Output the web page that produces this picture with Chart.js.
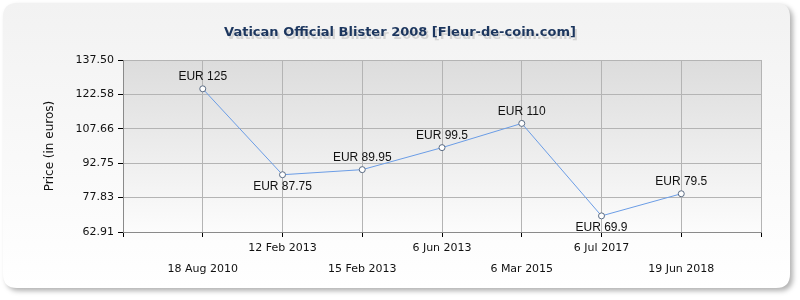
<!DOCTYPE html>
<html>
<head>
<meta charset="utf-8">
<script src="https://cdn.jsdelivr.net/npm/chart.js@4.4.0/dist/chart.umd.min.js"></script>
<style>
  html, body { margin: 0; padding: 0; background: #fff; }
  #wrap { width: 800px; height: 300px; }
</style>
</head>
<body>
<div id="wrap"><canvas id="priceChart" width="800" height="300"></canvas></div>
<script>
// données
const dateLabels = ["18 Aug 2010", "12 Feb 2013", "15 Feb 2013", "6 Jun 2013", "6 Mar 2015", "6 Jul 2017", "19 Jun 2018"];
const prices = [125, 87.75, 89.95, 99.5, 110, 69.9, 79.5];
const yTicks = [62.91, 77.83, 92.75, 107.66, 122.58, 137.50];

const chartTitle = "Vatican Official Blister 2008 [Fleur-de-coin.com]";
const yTitle = "Price (in euros)";

function roundRect(ctx, x, y, w, h, r) {
  ctx.beginPath();
  ctx.moveTo(x + r, y);
  ctx.lineTo(x + w - r, y);
  ctx.quadraticCurveTo(x + w, y, x + w, y + r);
  ctx.lineTo(x + w, y + h - r);
  ctx.quadraticCurveTo(x + w, y + h, x + w - r, y + h);
  ctx.lineTo(x + r, y + h);
  ctx.quadraticCurveTo(x, y + h, x, y + h - r);
  ctx.lineTo(x, y + r);
  ctx.quadraticCurveTo(x, y, x + r, y);
  ctx.closePath();
}

// fond du panneau, zone de tracé, titres
const decorPlugin = {
  id: 'decor',
  beforeDraw(chart) {
    const ctx = chart.ctx;
    const area = chart.chartArea;
    ctx.save();
    ctx.fillStyle = '#ffffff';
    ctx.fillRect(0, 0, chart.width, chart.height);

    ctx.shadowColor = 'rgba(0,0,0,0.3)';
    ctx.shadowBlur = 5;
    ctx.shadowOffsetX = 3;
    ctx.shadowOffsetY = 3;
    const g = ctx.createLinearGradient(0, 3, 0, 288);
    g.addColorStop(0, '#f2f2f2');
    g.addColorStop(1, '#ffffff');
    ctx.fillStyle = g;
    roundRect(ctx, 3, 3, 787, 285, 14);
    ctx.fill();
    ctx.shadowColor = 'transparent';

    const pg = ctx.createLinearGradient(0, area.top, 0, area.bottom);
    pg.addColorStop(0, '#dcdcdc');
    pg.addColorStop(1, '#fcfcfc');
    ctx.fillStyle = pg;
    ctx.fillRect(area.left, area.top, area.right - area.left, area.bottom - area.top);

    // titre avec ombre légère
    ctx.font = 'bold 13px "DejaVu Sans"';
    ctx.textAlign = 'center';
    ctx.textBaseline = 'middle';
    ctx.fillStyle = 'rgba(140,140,140,0.3)';
    ctx.fillText(chartTitle, 402, 36);
    ctx.fillStyle = '#1c365e';
    ctx.fillText(chartTitle, 400, 33);

    ctx.translate(50, (area.top + area.bottom) / 2);
    ctx.rotate(-Math.PI / 2);
    ctx.font = '12px "DejaVu Sans"';
    ctx.fillStyle = '#111';
    ctx.fillText(yTitle, 0, 0);
    ctx.restore();
  },
  afterDatasetsDraw(chart) {
    const ctx = chart.ctx;
    const meta = chart.getDatasetMeta(0);
    ctx.save();
    ctx.font = '12px "Liberation Sans"';
    ctx.fillStyle = '#111';
    ctx.textAlign = 'center';
    meta.data.forEach((pt, i) => {
      const v = prices[i];
      const prev = i > 0 ? prices[i - 1] : Infinity;
      const next = i < prices.length - 1 ? prices[i + 1] : Infinity;
      const below = v < prev && v < next;
      if (below) {
        ctx.textBaseline = 'top';
        ctx.fillText('EUR ' + v, pt.x, pt.y + 6);
      } else {
        ctx.textBaseline = 'bottom';
        ctx.fillText('EUR ' + v, pt.x, pt.y - 6);
      }
    });
    ctx.restore();
  }
};

new Chart(document.getElementById('priceChart'), {
  type: 'line',
  data: {
    datasets: [{
      data: prices.map((p, i) => ({ x: i + 1, y: p })),
      borderColor: '#6b9de6',
      borderWidth: 1,
      pointRadius: 3,
      pointBorderWidth: 1,
      pointBackgroundColor: '#ffffff',
      pointBorderColor: '#5b6c84',
      tension: 0
    }]
  },
  options: {
    responsive: false,
    animation: false,
    layout: { padding: { top: 60, right: 39, left: 0, bottom: 0 } },
    plugins: {
      legend: { display: false },
      title: { display: false },
      tooltip: { enabled: false }
    },
    scales: {
      x: {
        type: 'linear',
        min: 0,
        max: 8,
        afterFit(scale) { scale.height = 68; },
        ticks: {
          stepSize: 1,
          autoSkip: false,
          maxRotation: 0,
          padding: 1,
          color: '#111',
          font: { family: '"DejaVu Sans"', size: 11, lineHeight: '21px' },
          callback(value) {
            const label = dateLabels[value - 1];
            if (!label) return '';
            return value % 2 === 1 ? ['', label] : label;
          }
        },
        grid: { color: '#b4b4b4', tickColor: '#000', tickLength: 5 },
        border: { color: '#8a8a8a' }
      },
      y: {
        min: 62.91,
        max: 137.5,
        afterFit(scale) { scale.width = 123; },
        afterBuildTicks(scale) { scale.ticks = yTicks.map(v => ({ value: v })); },
        ticks: {
          padding: 4,
          color: '#111',
          font: { family: '"DejaVu Sans"', size: 11 },
          callback(value) { return value.toFixed(2); }
        },
        grid: { color: '#b4b4b4', tickColor: '#000', tickLength: 5 },
        border: { color: '#8a8a8a' }
      }
    }
  },
  plugins: [decorPlugin]
});
</script>
</body>
</html>
